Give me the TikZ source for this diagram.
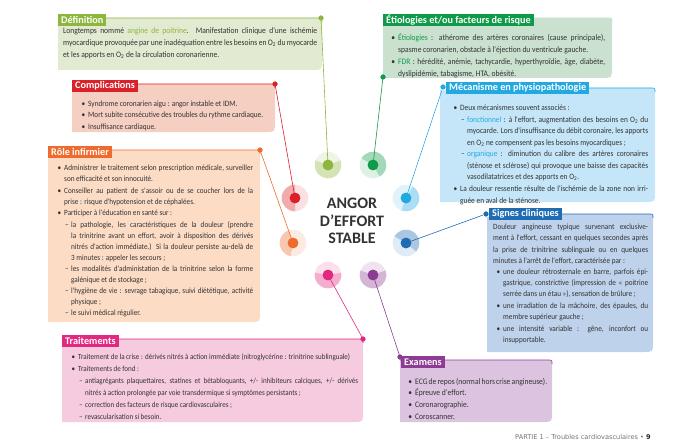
\documentclass[tikz,border=0pt]{standalone}
\usepackage{fontspec}
\setmainfont{Carlito}
\newfontfamily\bodyf[FakeStretch=0.9]{Carlito}
\newfontfamily\footf{DejaVu Sans}
\usepackage{enumitem}
\setlist[itemize]{nosep}
\setlist[itemize,1]{label={\textbullet}, leftmargin=8pt, labelsep=3pt, itemsep=0.6pt}
\setlist[itemize,2]{label={–}, leftmargin=7pt, labelsep=2.5pt, itemsep=0pt}
\setlength\parindent{0pt}
\hyphenpenalty=10000
\definecolor{txt}{HTML}{333333}
\definecolor{ctext}{HTML}{333333}
\definecolor{oliveT}{HTML}{8DB63C}\definecolor{oliveL}{HTML}{E2EAD1}
\definecolor{redT}{HTML}{DA2128}\definecolor{redL}{HTML}{F6CFC3}
\definecolor{orangeT}{HTML}{EF6B2D}\definecolor{orangeL}{HTML}{FDDCC6}
\definecolor{pinkT}{HTML}{E2287F}\definecolor{pinkL}{HTML}{F6CADF}
\definecolor{greenT}{HTML}{0E9A48}\definecolor{greenL}{HTML}{C9E1CE}
\definecolor{lblueT}{HTML}{23A9E1}\definecolor{lblueL}{HTML}{C5E6F8}
\definecolor{dblueT}{HTML}{1E6DB4}\definecolor{dblueL}{HTML}{BED2EB}
\definecolor{purpleT}{HTML}{8D3B93}\definecolor{purpleL}{HTML}{DCC4E1}
\newcommand\drawbox[6]{%
  \fill[#1] (#3,#4) -- ({#5-4},#4) .. controls (#5,#4) .. (#5,{#4+4}) -- (#5,{#6-10}) .. controls (#5,#6) .. ({#5-10},#6) -- (#3,#6) -- cycle;
  \draw[#2, line width=0.6pt] (#3,#4) -- ({#5-4},#4) .. controls (#5,#4) .. (#5,{#4+4});}
\newcommand\ringat[6]{%
  \fill[#3!14] (#1,#2) circle (13.3);
  \fill[#3!38] (#1,#2) -- ++(#4:13.3) arc[start angle=#4, end angle=#5, radius=13.3] -- cycle;
  \node[circle, fill=#3, minimum size=10.6pt, inner sep=0pt] (#6) at (#1,#2) {};}
\tikzset{
  boxtext/.style={anchor=north west, inner sep=0pt, align=justify, text=txt},
  tab/.style={anchor=west, fill=#1, text=white, font=\bfseries\fontsize{10.2}{10}\selectfont, inner xsep=3pt, inner ysep=0pt, minimum height=12.5pt},
  dotm/.style={circle, fill=#1, inner sep=0pt, minimum size=5pt},
  dotw/.style={circle, fill=#1, draw=white, line width=0.8pt, inner sep=0pt, minimum size=6.5pt},
  conn/.style={draw=#1, line width=0.6pt},
}
\begin{document}
\begin{tikzpicture}[x=1pt,y=-1pt]
\useasboundingbox (0,0) rectangle (700,441);
% boxes
\drawbox{oliveL}{oliveT}{58}{18}{322}{70}
\drawbox{redL}{redT}{72}{84}{275}{132}
\drawbox{orangeL}{orangeT}{48}{150}{260}{322}
\drawbox{pinkL}{pinkT}{62}{339}{363}{422}
\drawbox{greenL}{greenL}{383}{18}{612}{78}
\drawbox{lblueL}{lblueT}{440}{88}{655}{202}
\drawbox{dblueL}{dblueT}{487}{214}{653}{352}
\drawbox{purpleL}{purpleT}{400}{360}{552}{422}
% rings
\ringat{328}{165}{oliveT}{-20}{200}{cdef}
\ringat{373}{165}{greenT}{-150}{60}{ceti}
\ringat{295}{198}{redT}{90}{270}{ccom}
\ringat{406}{198}{lblueT}{-60}{110}{cmec}
\ringat{406}{243}{dblueT}{-150}{40}{csig}
\ringat{293}{243}{orangeT}{100}{250}{crol}
\ringat{328}{275}{pinkT}{-10}{190}{ctra}
\ringat{373}{275}{purpleT}{-20}{200}{cexa}
% dots on boxes
\node[dotm=oliveT] (ddef) at (321,18) {};
\node[dotm=redT] (dcom) at (275,84) {};
\node[dotm=orangeT] (drol) at (260,150) {};
\node[dotm=pinkT] (dtra) at (363,339) {};
\node[dotm=greenT] (deti) at (383,77) {};
\node[dotw=lblueT] (dmec) at (443,87) {};
\node[dotw=dblueT] (dsig) at (486,214) {};
\node[dotm=purpleT] (dexa) at (400,357) {};
% connectors
\draw[conn=oliveT] (ddef.center) -- (cdef.center);
\draw[conn=redT] (dcom.center) -- (ccom.center);
\draw[conn=orangeT] (drol.center) -- (crol.center);
\draw[conn=pinkT] (ctra.center) -- (dtra.center);
\draw[conn=greenT] (deti.center) -- (ceti.center);
\draw[conn=lblueT] (cmec.center) -- (dmec.center);
\draw[conn=dblueT] (csig.center) -- (dsig.center);
\draw[conn=purpleT] (cexa.center) -- (dexa.center);
% redraw dots over lines
\foreach \n/\c in {cdef/oliveT,ceti/greenT,ccom/redT,cmec/lblueT,csig/dblueT,crol/orangeT,ctra/pinkT,cexa/purpleT}
  \fill[\c] (\n.center) circle (5.3);
\foreach \n/\c in {ddef/oliveT,dcom/redT,drol/orangeT,dtra/pinkT,deti/greenT,dexa/purpleT}
  \fill[\c] (\n.center) circle (2.5);
\foreach \n/\c in {dmec/lblueT,dsig/dblueT}
  \filldraw[fill=\c, draw=white, line width=0.8pt] (\n.center) circle (3.2);
% tabs
\node[tab=oliveT] (tdef) at (58,20) {Définition};
\node[tab=redT] (tcom) at (72,86) {Complications};
\node[tab=orangeT] (trol) at (48,152) {Rôle infirmier};
\node[tab=pinkT] (ttra) at (62,341) {Traitements};
\node[tab=greenT] (teti) at (383,20) {Étiologies et/ou facteurs de risque};
\node[tab=lblueT] (tmec) at (446,88) {Mécanisme en physiopathologie};
\node[tab=dblueT] (tsig) at (489,214) {Signes cliniques};
\node[tab=purpleT] (texa) at (401,362) {Examens};
% center
\node[font=\bfseries\fontsize{16}{17.5}\selectfont, text=ctext, align=center] (title) at (352,221) {ANGOR\\D'EFFORT\\STABLE};
% texts
\node[boxtext, text width=254pt, font=\bodyf\fontsize{8.4}{12}\selectfont] (xdef) at (63,27)
{Longtemps nommé \textcolor{oliveT}{angine de poitrine}. Manifestation clinique d'une ischémie\linebreak myocardique provoquée par une inadéquation entre les besoins en O\textsubscript{2} du myocarde\linebreak et les apports en O\textsubscript{2} de la circulation coronarienne.};
\node[boxtext, text width=184pt, font=\bodyf\fontsize{8.1}{11}\selectfont] (xcom) at (80,95)
{\begin{itemize}
\item Syndrome coronarien aigu : angor instable et IDM.
\item Mort subite consécutive des troubles du rythme cardiaque.
\item Insuffisance cardiaque.
\end{itemize}};
\node[boxtext, text width=197pt, font=\bodyf\fontsize{8.0}{11.1}\selectfont] (xrol) at (56,159)
{\begin{itemize}
\item Administrer le traitement selon prescription médicale, surveiller\linebreak son efficacité et son innocuité.
\item Conseiller au patient de s'assoir ou de se coucher lors de la\linebreak prise : risque d'hypotension et de céphalées.
\item Participer à l'éducation en santé sur :
\begin{itemize}
\item la pathologie, les caractéristiques de la douleur (prendre\linebreak la trinitrine avant un effort, avoir à disposition des dérivés\linebreak nitrés d'action immédiate.) Si la douleur persiste au-delà de\linebreak 3 minutes : appeler les secours ;
\item les modalités d'administation de la trinitrine selon la forme\linebreak galénique et de stockage ;
\item l'hygiène de vie : sevrage tabagique, suivi diététique, activité\linebreak physique ;
\item le suivi médical régulier.
\end{itemize}
\end{itemize}};
\node[boxtext, text width=288pt, font=\bodyf\fontsize{7.8}{12}\selectfont] (xtra) at (70,347)
{\begin{itemize}
\item Traitement de la crise : dérivés nitrés à action immédiate (nitroglycérine : trinitrine sublinguale)
\item Traitements de fond :
\begin{itemize}
\item antiagrégants plaquettaires, statines et bétabloquants, +/- inhibiteurs calciques, +/- dérivés\linebreak nitrés à action prolongée par voie transdermique si symptômes persistants ;
\item correction des facteurs de risque cardiovasculaires ;
\item revascularisation si besoin.
\end{itemize}
\end{itemize}};
\node[boxtext, text width=215pt, font=\bodyf\fontsize{8.4}{11.7}\selectfont] (xeti) at (390,29)
{\begin{itemize}
\item \textcolor{greenT}{Étiologies} : athérome des artères coronaires (cause principale),\linebreak spasme coronarien, obstacle à l'éjection du ventricule gauche.
\item \textcolor{greenT}{FDR} : hérédité, anémie, tachycardie, hyperthyroïdie, âge, diabète,\linebreak dyslipidémie, tabagisme, HTA, obésité.
\end{itemize}};
\node[boxtext, text width=196pt, font=\bodyf\fontsize{8.2}{11.5}\selectfont] (xmec) at (452,99)
{\begin{itemize}
\item Deux mécanismes souvent associés :
\begin{itemize}
\item \textcolor{lblueT}{fonctionnel} : à l'effort, augmentation des besoins en O\textsubscript{2} du\linebreak myocarde. Lors d'insuffisance du débit coronaire, les apports\linebreak en O\textsubscript{2} ne compensent pas les besoins myocardiques ;
\item \textcolor{lblueT}{organique} : diminution du calibre des artères coronaires\linebreak (sténose et sclérose) qui provoque une baisse des capacités\linebreak vasodilatatrices et des apports en O\textsubscript{2}.
\end{itemize}
\item La douleur ressentie résulte de l'ischémie de la zone non irri-\linebreak guée en aval de la sténose.
\end{itemize}};
\node[boxtext, text width=155pt, font=\bodyf\fontsize{8.0}{11.2}\selectfont] (xsig) at (493,224)
{Douleur angineuse typique survenant exclusive-\linebreak ment à l'effort, cessant en quelques secondes après\linebreak la prise de trinitrine sublinguale ou en quelques\linebreak minutes à l'arrêt de l'effort, caractérisée par :
\begin{itemize}[leftmargin=10pt]
\item une douleur rétrosternale en barre, parfois épi-\linebreak gastrique, constrictive (impression de « poitrine\linebreak serrée dans un étau »), sensation de brûlure ;
\item une irradiation de la mâchoire, des épaules, du\linebreak membre supérieur gauche ;
\item une intensité variable : gêne, inconfort ou\linebreak insupportable.
\end{itemize}};
\node[boxtext, text width=140pt, font=\bodyf\fontsize{8.4}{11}\selectfont] (xexa) at (407,373)
{\begin{itemize}
\item ECG de repos (normal hors crise angineuse).
\item Épreuve d'effort.
\item Coronarographie.
\item Coroscanner.
\end{itemize}};
% footer
\node[anchor=west, inner sep=0pt, font=\footf\fontsize{6.6}{8}\selectfont, text=black!55] (foot) at (515,437)
{PARTIE 1 – Troubles cardiovasculaires • \textcolor{black!85}{\bfseries 9}};
\end{tikzpicture}
\end{document}
